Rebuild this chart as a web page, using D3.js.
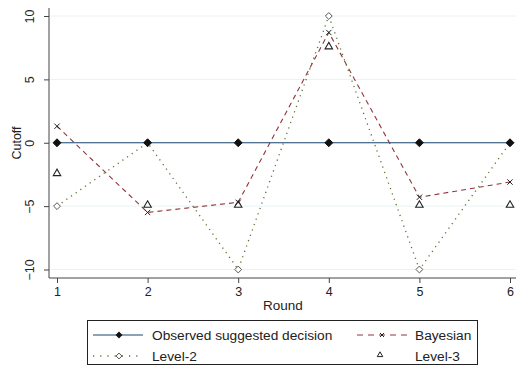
<!DOCTYPE html>
<meta charset="utf-8">
<head>
<style>
  body { margin: 0; background: #fff; }
  svg { font-family: "Liberation Sans", Arial, sans-serif; }
</style>
</head>
<body>
<svg id="chart"></svg>
<script src="https://d3js.org/d3.v7.min.js"></script>
<script>

// values
var rounds   = [1, 2, 3, 4, 5, 6];
var observed = [0, 0, 0, 0, 0, 0];
var bayesian = [1.3, -5.5, -4.7, 8.7, -4.3, -3.1];
var level2   = [-5, 0, -10, 10, -10, 0];
var level3   = [-2.5, -5, -5, 7.5, -5, -5];
var yTicks   = [-10, -5, 0, 5, 10];

var W = 516, H = 367;

var svg = d3.select("#chart")
    .attr("width", W)
    .attr("height", H);

var x = d3.scaleLinear()
    .domain([1, 6])
    .range([57, 510]);

var y = d3.scaleLinear()
    .domain([-10, 10])
    .range([269.5, 16]);

var plotLeft = 49, plotTop = 8, plotBottom = 278, plotRight = 516;

// grid
svg.selectAll(".grid")
    .data(yTicks)
  .enter().append("line")
    .attr("class", "grid")
    .attr("x1", plotLeft).attr("x2", plotRight)
    .attr("y1", function(d) { return y(d); })
    .attr("y2", function(d) { return y(d); })
    .style("stroke", "#eaf2f3")
    .style("stroke-width", 1);

// y axis
var yAxis = d3.axisLeft(y)
    .tickValues(yTicks)
    .tickSize(5)
    .tickFormat(d3.format("d"));

var gy = svg.append("g")
    .attr("transform", "translate(" + plotLeft + ",0)")
    .call(yAxis);
gy.select(".domain").attr("d", "M0," + plotTop + "V" + plotBottom).style("stroke", "#444");
gy.selectAll(".tick line").style("stroke", "#444");
gy.selectAll(".tick text")
    .attr("x", 0).attr("y", 0).attr("dy", 0)
    .attr("transform", "translate(-15,0) rotate(-90)")
    .style("text-anchor", "middle")
    .style("font-size", "12.5px")
    .style("fill", "#222")
    .style("font-family", "Liberation Sans, Arial, sans-serif");

// x axis
var xAxis = d3.axisBottom(x)
    .tickValues(rounds)
    .tickSize(5)
    .tickFormat(d3.format("d"));

var gx = svg.append("g")
    .attr("transform", "translate(0," + plotBottom + ")")
    .call(xAxis);
gx.select(".domain").attr("d", "M" + plotLeft + ",0H" + plotRight).style("stroke", "#444");
gx.selectAll(".tick line").style("stroke", "#444");
gx.selectAll(".tick text")
    .attr("y", 9)
    .style("font-size", "12.5px")
    .style("fill", "#222")
    .style("font-family", "Liberation Sans, Arial, sans-serif");

// axis titles
svg.append("text")
    .attr("transform", "translate(17," + ((plotTop + plotBottom) / 2) + ") rotate(-90)")
    .attr("dy", "0.35em")
    .style("text-anchor", "middle")
    .style("font-size", "12.5px")
    .style("fill", "#222")
    .text("Cutoff");

svg.append("text")
    .attr("x", 283)
    .attr("y", 310)
    .style("text-anchor", "middle")
    .style("font-size", "13.5px")
    .style("fill", "#222")
    .text("Round");

function pts(vals) {
  return rounds.map(function(r, i) { return {r: r, v: vals[i]}; });
}

var line = d3.line()
    .x(function(d) { return x(d.r); })
    .y(function(d) { return y(d.v); });

// series lines
svg.append("path").datum(pts(observed))
    .attr("d", line)
    .style("fill", "none").style("stroke", "#1a476f").style("stroke-width", 1.2);

svg.append("path").datum(pts(bayesian))
    .attr("d", line)
    .style("fill", "none").style("stroke", "#90353b").style("stroke-width", 1.1)
    .style("stroke-dasharray", "5,4");

svg.append("path").datum(pts(level2))
    .attr("d", line)
    .style("fill", "none").style("stroke", "#55752f").style("stroke-width", 1.3)
    .style("stroke-dasharray", "1.2,4.5");

// markers
var diamond = d3.symbol().type(d3.symbolDiamond2);
var tri = d3.symbol().type(d3.symbolTriangle2);
var cross = d3.symbol().type(d3.symbolX);

svg.selectAll(".l2").data(pts(level2)).enter().append("path")
    .attr("class", "l2")
    .attr("transform", function(d) { return "translate(" + x(d.r) + "," + y(d.v) + ")"; })
    .attr("d", diamond.size(30))
    .style("fill", "#fff").style("stroke", "#555").style("stroke-width", 1);

svg.selectAll(".obs").data(pts(observed)).enter().append("path")
    .attr("class", "obs")
    .attr("transform", function(d) { return "translate(" + x(d.r) + "," + y(d.v) + ")"; })
    .attr("d", diamond.size(40))
    .style("fill", "#111").style("stroke", "#111");

svg.selectAll(".bay").data(pts(bayesian)).enter().append("path")
    .attr("class", "bay")
    .attr("transform", function(d) { return "translate(" + x(d.r) + "," + y(d.v) + ")"; })
    .attr("d", cross.size(20))
    .style("fill", "none").style("stroke", "#222").style("stroke-width", 1);

svg.selectAll(".l3").data(pts(level3)).enter().append("path")
    .attr("class", "l3")
    .attr("transform", function(d) { return "translate(" + x(d.r) + "," + (y(d.v) - 1) + ")"; })
    .attr("d", tri.size(40))
    .style("fill", "none").style("stroke", "#222").style("stroke-width", 1.1);

// legend
var lg = svg.append("g");
lg.append("rect")
    .attr("x", 87.5).attr("y", 320.5)
    .attr("width", 390).attr("height", 44)
    .style("fill", "#fff").style("stroke", "#222").style("stroke-width", 1);

var row1 = 335, row2 = 356;

lg.append("line").attr("x1", 93).attr("x2", 143).attr("y1", row1).attr("y2", row1)
    .style("stroke", "#1a476f").style("stroke-width", 1.2);
lg.append("path").attr("transform", "translate(119," + row1 + ")").attr("d", diamond.size(30))
    .style("fill", "#111");

lg.append("line").attr("x1", 357).attr("x2", 410).attr("y1", row1).attr("y2", row1)
    .style("stroke", "#90353b").style("stroke-dasharray", "6,5");
lg.append("path").attr("transform", "translate(382," + row1 + ")").attr("d", cross.size(12))
    .style("fill", "none").style("stroke", "#222");

lg.append("line").attr("x1", 93).attr("x2", 143).attr("y1", row2).attr("y2", row2)
    .style("stroke", "#55752f").style("stroke-width", 1.3).style("stroke-dasharray", "1.2,6");
lg.append("path").attr("transform", "translate(119," + row2 + ")").attr("d", diamond.size(22))
    .style("fill", "#fff").style("stroke", "#555");

lg.append("path").attr("transform", "translate(380," + (row2 - 1) + ")").attr("d", tri.size(22))
    .style("fill", "none").style("stroke", "#222");

var labels = [
  {t: "Observed suggested decision", x: 152, y: row1},
  {t: "Bayesian", x: 415, y: row1},
  {t: "Level-2", x: 152, y: row2},
  {t: "Level-3", x: 415, y: row2}
];
lg.selectAll(".lt").data(labels).enter().append("text")
    .attr("x", function(d) { return d.x; })
    .attr("y", function(d) { return d.y; })
    .attr("dy", "0.35em")
    .style("font-size", "13.7px")
    .style("fill", "#222")
    .text(function(d) { return d.t; });

</script>
</body>
